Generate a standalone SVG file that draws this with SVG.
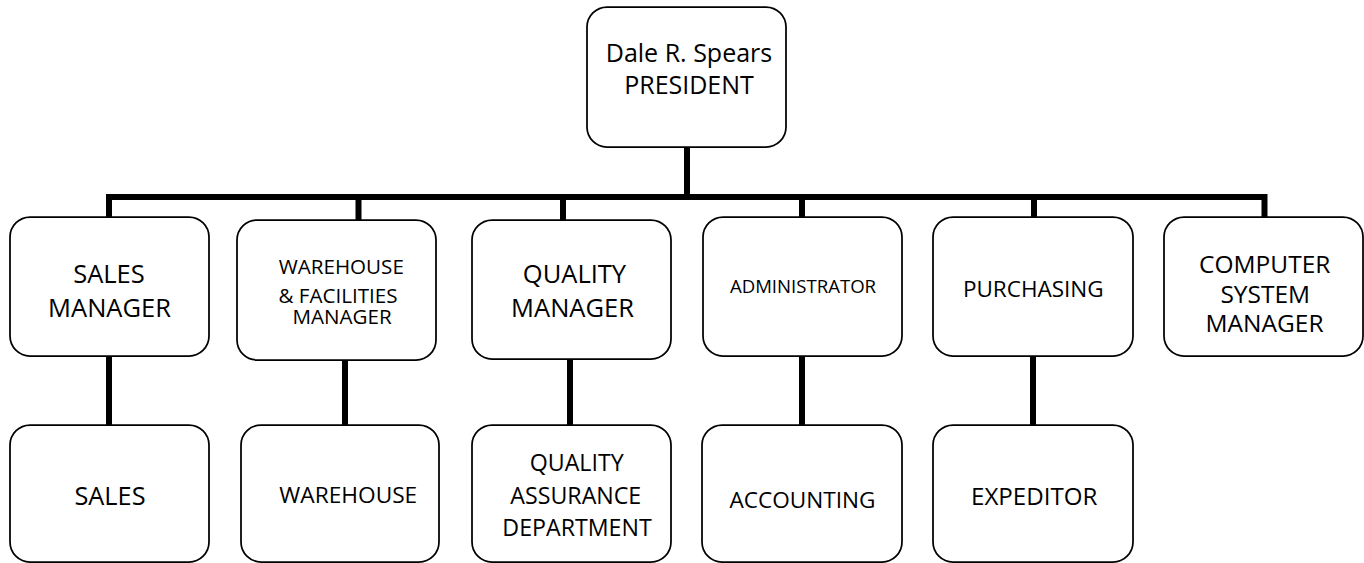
<svg xmlns="http://www.w3.org/2000/svg" width="1364" height="563" viewBox="0 0 1364 563">
<style>
  .box { fill: #ffffff; stroke: #000000; stroke-width: 1.75; }
  .conn { fill: none; stroke: #000000; stroke-width: 6; stroke-linejoin: miter; stroke-linecap: butt; }
  text { font-family: "Open Sans", "Liberation Sans", sans-serif; fill: #000000; text-anchor: middle; }
</style>
<rect width="1364" height="563" fill="#ffffff"/>
<g id="connectors">
  <path class="conn" d="M687,147 V197"/>
  <path class="conn" d="M109,217 V197 H1264.5 V217"/>
  <path class="conn" d="M358.5,197 V220"/>
  <path class="conn" d="M563,197 V220"/>
  <path class="conn" d="M802,197 V217"/>
  <path class="conn" d="M1034,197 V217"/>
  <path class="conn" d="M109,356 V425"/>
  <path class="conn" d="M345,360 V425"/>
  <path class="conn" d="M570,359 V425"/>
  <path class="conn" d="M802,356 V425"/>
  <path class="conn" d="M1033,356 V425"/>
</g>
<g id="president">
  <rect class="box" x="587" y="7" width="199" height="140" rx="20"/>
  <text x="689" y="62" font-size="25">Dale R. Spears</text>
  <text x="689" y="94" font-size="25">PRESIDENT</text>
</g>
<g id="sales-manager">
  <rect class="box" x="10" y="217" width="199" height="139" rx="20"/>
  <text x="109" y="283" font-size="25.5">SALES</text>
  <text x="109.5" y="317" font-size="25.5">MANAGER</text>
</g>
<g id="warehouse-manager">
  <rect class="box" x="237" y="220" width="199" height="140" rx="20"/>
  <text x="341.3" y="274" font-size="20.6">WAREHOUSE</text>
  <text x="338" y="303" font-size="20.6">&amp; FACILITIES</text>
  <text x="342" y="324" font-size="20.6">MANAGER</text>
</g>
<g id="quality-manager">
  <rect class="box" x="472" y="220" width="199" height="139" rx="20"/>
  <text x="574.5" y="283" font-size="25.5">QUALITY</text>
  <text x="572.5" y="317" font-size="25.5">MANAGER</text>
</g>
<g id="administrator">
  <rect class="box" x="703" y="217" width="199" height="139" rx="20"/>
  <text x="803" y="293" font-size="18.6">ADMINISTRATOR</text>
</g>
<g id="purchasing">
  <rect class="box" x="933" y="217" width="200" height="139" rx="20"/>
  <text x="1033.3" y="297" font-size="22.5">PURCHASING</text>
</g>
<g id="computer-system-manager">
  <rect class="box" x="1164" y="217" width="199" height="139" rx="20"/>
  <text x="1264.7" y="273" font-size="24.5">COMPUTER</text>
  <text x="1265.3" y="303" font-size="24.5">SYSTEM</text>
  <text x="1264.5" y="332" font-size="24.5">MANAGER</text>
</g>
<g id="sales">
  <rect class="box" x="10" y="425" width="199" height="137" rx="20"/>
  <text x="110" y="505" font-size="25.3">SALES</text>
</g>
<g id="warehouse">
  <rect class="box" x="241" y="425" width="198" height="137" rx="20"/>
  <text x="348.3" y="503" font-size="22.7">WAREHOUSE</text>
</g>
<g id="quality-assurance">
  <rect class="box" x="472" y="425" width="199" height="137" rx="20"/>
  <text x="576.7" y="471" font-size="23.2">QUALITY</text>
  <text x="575.8" y="504" font-size="23.2">ASSURANCE</text>
  <text x="577" y="536" font-size="23.2">DEPARTMENT</text>
</g>
<g id="accounting">
  <rect class="box" x="702" y="425" width="200" height="137" rx="20"/>
  <text x="802.5" y="508" font-size="22.6">ACCOUNTING</text>
</g>
<g id="expeditor">
  <rect class="box" x="933" y="425" width="200" height="137" rx="20"/>
  <text x="1034.2" y="505" font-size="24.1">EXPEDITOR</text>
</g>
</svg>
